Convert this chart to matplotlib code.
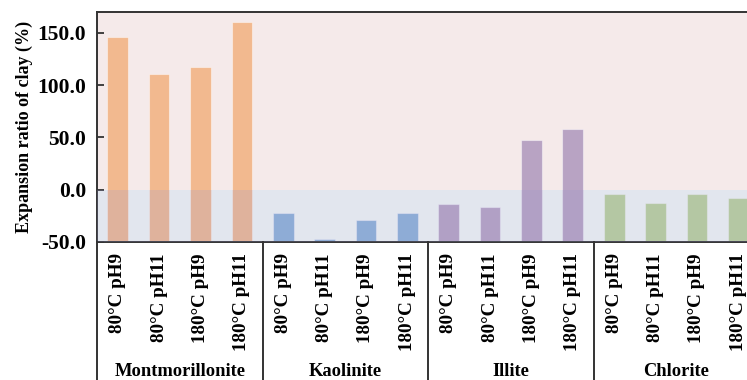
import numpy as np
import matplotlib.pyplot as plt

plt.rcParams["font.family"] = ["Liberation Serif", "DejaVu Serif"]
plt.rcParams["font.weight"] = "bold"

clays = ["Montmorillonite", "Kaolinite", "Illite", "Chlorite"]
conditions = ["80°C pH9", "80°C pH11", "180°C pH9", "180°C pH11"]
expansion = {
    "Montmorillonite": [146, 111, 117, 160],
    "Kaolinite": [-22, -47, -29, -22],
    "Illite": [-14, -17, 48, 58],
    "Chlorite": [-4, -13, -4, -8],
}
clay_colors = ["#F2B98F", "#8DB2D8", "#B8A3C3", "#BCD498"]
y_floor = -50

fig = plt.figure(figsize=(7.47, 3.80), dpi=100)
ax = fig.add_axes([0.1299, 0.3632, 0.8862, 0.6053])

n_cond = len(conditions)
x = np.arange(len(clays) * n_cond)

# background bands for swelling / shrinking
ax.axhspan(0, 170, color="#F5EAEA", zorder=0, lw=0)
ax.axhspan(y_floor, 0, color="#F6FAF6", zorder=0, lw=0)

# bars rise from the bottom of the axis
for i, clay in enumerate(clays):
    xs = x[i * n_cond:(i + 1) * n_cond]
    vals = np.array(expansion[clay])
    ax.bar(xs, vals - y_floor, bottom=y_floor, width=0.5,
           color=clay_colors[i], edgecolor=(1, 1, 1, 0.45),
           linewidth=0.8, zorder=2)

# bluish wash over the negative region
ax.axhspan(y_floor, 0, color=(150 / 255, 150 / 255, 210 / 255), alpha=0.2,
           zorder=3, lw=0)

ax.set_xlim(-0.5, len(x) - 0.5)
ax.set_ylim(y_floor, 170)
ticks = [-50, 0, 50, 100, 150]
ax.set_yticks(ticks)
ax.set_yticklabels([f"{v:.1f}" for v in ticks])
ax.tick_params(axis="y", direction="in", length=5, width=1.3,
               color="#333333", pad=8, labelsize=15.5)
ax.set_ylabel("Expansion ratio of clay (%)", fontsize=13,
              fontweight="bold", labelpad=3)

ax.set_xticks(x)
ax.set_xticklabels(conditions * len(clays), rotation=90, va="top",
                   ha="center", fontsize=13.8)
ax.tick_params(axis="x", length=0, pad=8)

for side in ["top", "bottom", "left", "right"]:
    ax.spines[side].set_color("#333333")
    ax.spines[side].set_linewidth(1.4)

# group separators below the axis
trans = ax.get_xaxis_transform()
for b in np.arange(-0.5, len(x), n_cond):
    ax.plot([b, b], [0, -0.62], transform=trans, color="#333333",
            lw=1.4, clip_on=False, zorder=5)

for i, clay in enumerate(clays):
    ax.text(i * n_cond + (n_cond - 1) / 2, -0.565, clay, transform=trans,
            ha="center", va="center", fontsize=13.3, fontweight="bold")

fig.savefig("out.png", dpi=100)
